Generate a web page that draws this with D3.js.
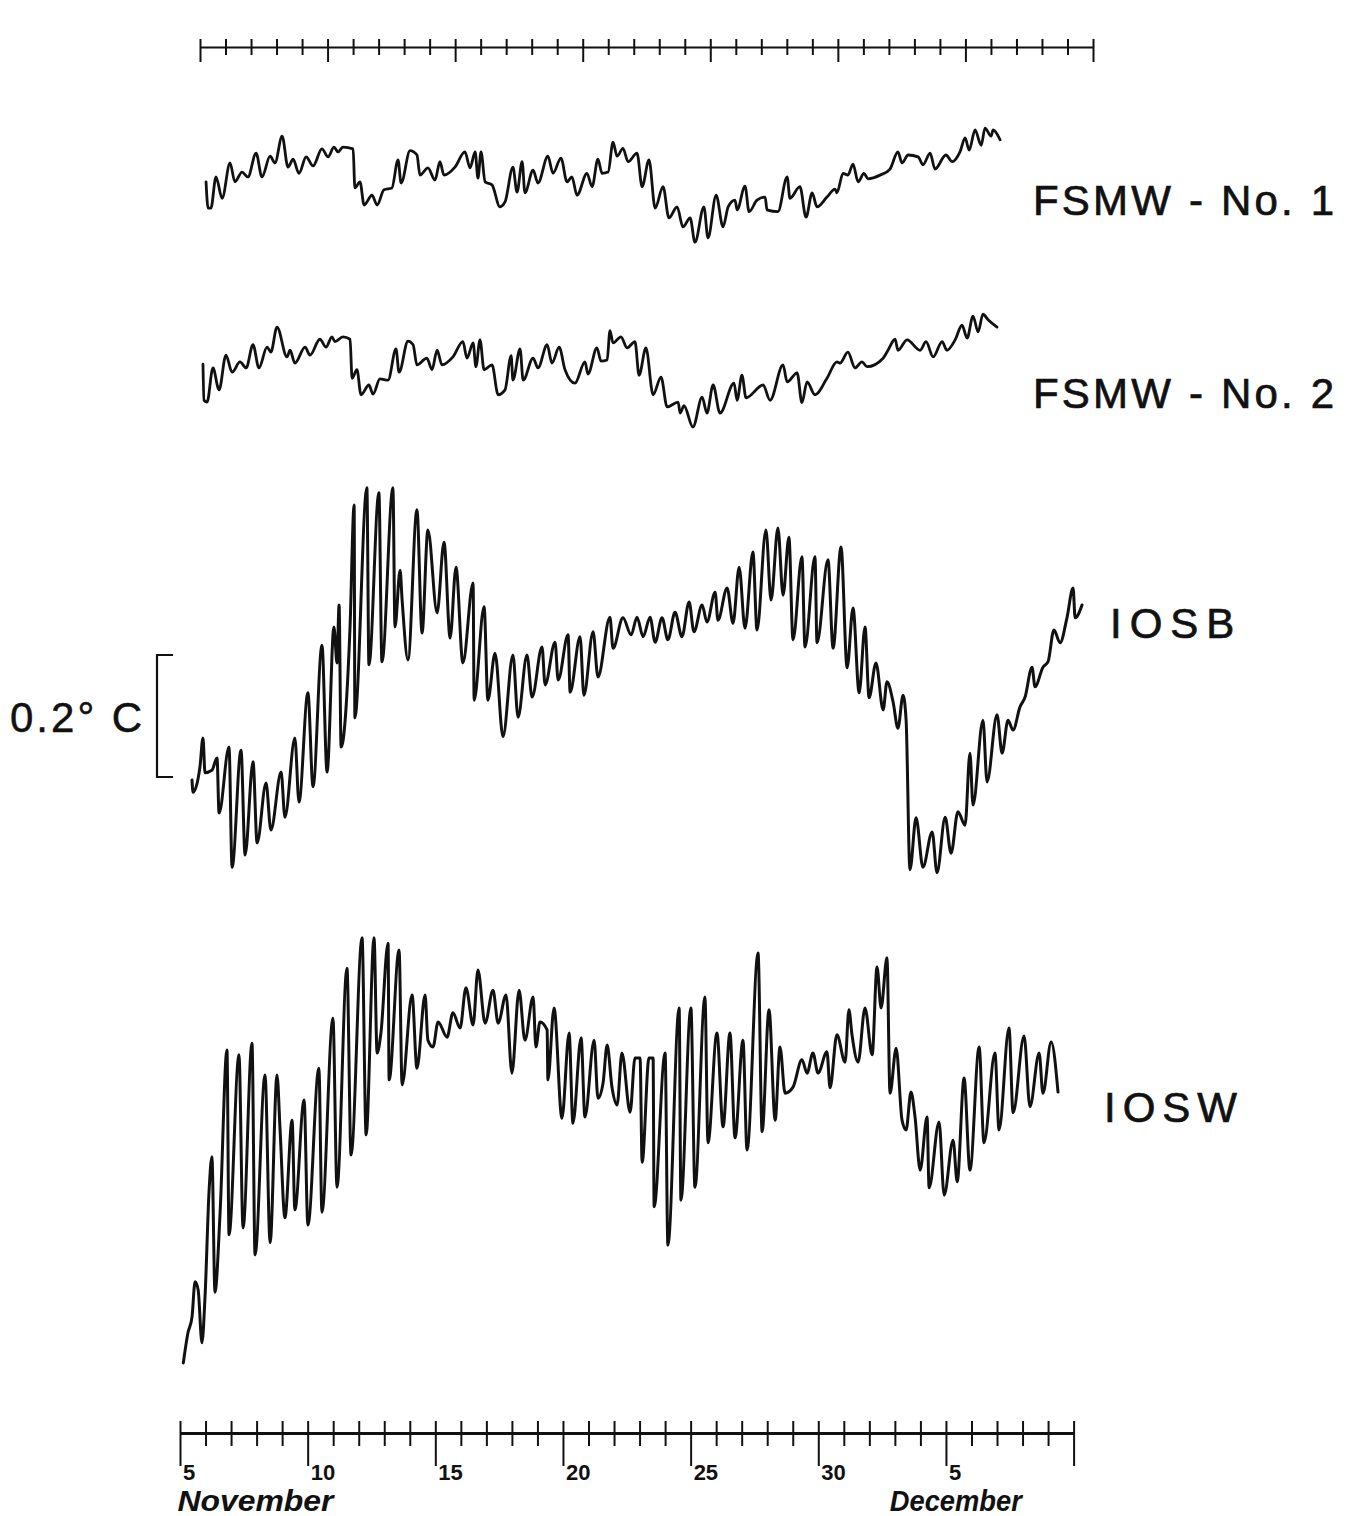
<!DOCTYPE html>
<html><head><meta charset="utf-8">
<script src="https://cdn.jsdelivr.net/npm/d3@7"></script>
<style>body{margin:0;background:#fff}svg{display:block}</style></head>
<body><svg id="c" width="1355" height="1516"></svg>
<script>
// ---------- DATA (day of November, temperature anomaly in °C) ----------
const tickDays = d3.range(5, 41);
const majorDays = [5, 10, 15, 20, 25, 30, 35, 40];
const dayLabels = ["5", "10", "15", "20", "25", "30", "5", ""];
const monthNames = ["November", "December"];
const monthDays = [4.9, 32.8];
const seriesNames = ["FSMW - No. 1", "FSMW - No. 2", "IOSB", "IOSW"];
const scaleBarValues = [0, 0.2];
const scaleBarLabel = "0.2° C";

const fsmw1 = [[6.02,-0.003],[6.10,-0.046],[6.21,-0.046],[6.41,0.005],[6.65,-0.030],[6.96,0.028],[7.15,-0.003],[7.43,0.013],[7.66,0.005],[7.98,0.044],[8.21,0.005],[8.53,0.039],[8.72,0.028],[9.00,0.072],[9.23,0.021],[9.43,0.034],[9.66,0.011],[9.94,0.038],[10.21,0.023],[10.56,0.051],[10.80,0.038],[11.03,0.054],[11.19,0.046],[11.38,0.054],[11.78,0.051],[11.85,-0.013],[12.05,-0.003],[12.21,-0.041],[12.52,-0.025],[12.72,-0.041],[12.99,-0.016],[13.30,-0.013],[13.54,0.033],[13.66,-0.005],[14.01,0.048],[14.28,0.041],[14.40,0.008],[14.71,0.020],[14.99,0.000],[15.18,0.030],[15.34,0.008],[15.77,0.021],[16.16,0.046],[16.36,0.020],[16.56,0.046],[16.67,0.003],[16.79,0.046],[16.95,-0.003],[17.22,-0.008],[17.53,-0.044],[17.73,-0.036],[18.04,0.021],[18.20,-0.020],[18.40,0.030],[18.51,-0.021],[18.83,0.016],[19.02,-0.005],[19.41,0.039],[19.61,0.011],[19.92,0.036],[20.16,-0.003],[20.35,0.005],[20.55,-0.025],[20.94,0.011],[21.14,-0.011],[21.37,0.034],[21.53,0.011],[21.77,0.013],[21.96,0.062],[22.12,0.039],[22.35,0.052],[22.55,0.030],[22.90,0.044],[23.10,-0.011],[23.37,0.033],[23.61,-0.046],[23.92,-0.011],[24.15,-0.062],[24.47,-0.044],[24.70,-0.077],[24.98,-0.062],[25.17,-0.102],[25.52,-0.044],[25.68,-0.095],[26.00,-0.025],[26.27,-0.077],[26.47,-0.044],[26.74,-0.033],[26.82,-0.049],[27.13,-0.010],[27.29,-0.052],[27.60,-0.033],[27.92,-0.028],[27.99,-0.049],[28.42,-0.052],[28.78,0.005],[28.89,-0.030],[29.28,-0.011],[29.52,-0.061],[29.76,-0.021],[29.95,-0.044],[30.34,-0.028],[30.66,-0.015],[30.73,-0.021],[30.97,0.011],[31.16,0.008],[31.36,0.026],[31.56,-0.003],[31.79,0.011],[31.95,0.002],[32.42,0.008],[32.81,0.018],[33.12,0.046],[33.28,0.028],[33.52,0.041],[33.91,0.038],[34.10,0.025],[34.38,0.044],[34.57,0.018],[35.00,0.041],[35.24,0.030],[35.55,0.046],[35.75,0.069],[35.91,0.049],[36.14,0.082],[36.38,0.057],[36.53,0.085],[36.77,0.072],[36.85,0.082],[37.12,0.066]];

const fsmw2 = [[5.90,-0.007],[5.94,-0.066],[6.06,-0.069],[6.29,-0.013],[6.53,-0.049],[6.80,0.008],[7.04,-0.020],[7.35,-0.003],[7.59,-0.013],[7.86,0.025],[8.09,-0.013],[8.41,0.021],[8.56,0.013],[8.80,0.054],[9.19,0.005],[9.31,0.016],[9.50,-0.005],[9.90,0.021],[10.09,0.008],[10.48,0.034],[10.72,0.021],[10.95,0.038],[11.07,0.030],[11.38,0.038],[11.66,0.034],[11.74,-0.030],[11.93,-0.016],[12.09,-0.057],[12.40,-0.041],[12.56,-0.056],[12.83,-0.031],[13.15,-0.033],[13.46,0.018],[13.58,-0.020],[13.93,0.031],[14.13,0.025],[14.28,-0.008],[14.67,0.003],[14.87,-0.016],[15.07,0.016],[15.26,-0.008],[15.69,0.005],[16.08,0.030],[16.24,0.003],[16.48,0.028],[16.59,-0.011],[16.75,0.033],[16.91,-0.016],[17.22,-0.008],[17.46,-0.057],[17.73,-0.049],[17.97,0.007],[18.04,-0.033],[18.32,0.018],[18.44,-0.033],[18.83,0.003],[19.02,-0.013],[19.38,0.025],[19.57,-0.005],[19.85,0.021],[20.08,-0.016],[20.47,-0.038],[20.86,-0.003],[20.98,-0.023],[21.33,0.020],[21.49,-0.002],[21.73,0.000],[21.84,0.048],[21.96,0.028],[22.27,0.038],[22.51,0.020],[22.82,0.030],[22.98,-0.025],[23.25,0.020],[23.53,-0.057],[23.84,-0.028],[24.08,-0.077],[24.51,-0.069],[24.59,-0.087],[24.74,-0.075],[25.09,-0.110],[25.45,-0.061],[25.64,-0.087],[25.88,-0.041],[26.15,-0.087],[26.70,-0.038],[26.82,-0.066],[27.01,-0.025],[27.17,-0.062],[27.84,-0.041],[28.11,-0.066],[28.62,-0.008],[28.78,-0.036],[29.17,-0.021],[29.36,-0.070],[29.56,-0.036],[29.87,-0.057],[30.34,-0.030],[30.73,-0.003],[30.85,-0.005],[31.16,0.013],[31.44,-0.013],[31.71,-0.003],[31.91,-0.011],[32.54,0.003],[32.73,0.016],[33.01,0.034],[33.12,0.016],[33.48,0.033],[33.99,0.016],[34.22,0.030],[34.50,0.005],[34.85,0.030],[35.04,0.016],[35.36,0.033],[35.63,0.057],[35.83,0.036],[36.06,0.072],[36.26,0.046],[36.45,0.075],[36.65,0.066],[37.00,0.054]];

const iosb = [[5.47,-0.005],[5.51,-0.025],[5.78,0.016],[5.90,0.064],[5.98,0.007],[6.25,0.011],[6.45,0.031],[6.53,-0.059],[6.92,0.049],[7.04,-0.148],[7.39,0.044],[7.55,-0.128],[7.86,0.025],[8.02,-0.108],[8.37,-0.010],[8.56,-0.087],[8.96,0.008],[9.11,-0.066],[9.50,0.064],[9.66,-0.041],[10.01,0.138],[10.21,-0.016],[10.56,0.216],[10.76,0.008],[11.03,0.246],[11.15,0.187],[11.23,0.282],[11.31,0.049],[11.66,0.246],[11.82,0.446],[11.85,0.097],[12.32,0.474],[12.40,0.184],[12.79,0.466],[12.91,0.189],[13.34,0.474],[13.42,0.246],[13.62,0.339],[13.70,0.290],[13.93,0.192],[14.28,0.438],[14.48,0.236],[14.71,0.405],[15.07,0.269],[15.34,0.385],[15.58,0.228],[15.81,0.344],[16.08,0.187],[16.48,0.318],[16.52,0.126],[16.91,0.279],[17.06,0.126],[17.34,0.203],[17.65,0.066],[18.04,0.200],[18.24,0.098],[18.59,0.200],[18.79,0.131],[19.18,0.213],[19.30,0.151],[19.69,0.221],[19.81,0.159],[20.20,0.233],[20.28,0.139],[20.67,0.230],[20.82,0.134],[21.18,0.238],[21.37,0.164],[21.84,0.262],[21.96,0.211],[22.35,0.261],[22.67,0.233],[22.90,0.262],[23.14,0.230],[23.41,0.262],[23.61,0.221],[23.88,0.261],[24.11,0.225],[24.39,0.270],[24.66,0.230],[24.94,0.287],[25.13,0.238],[25.45,0.282],[25.64,0.254],[25.96,0.303],[26.07,0.257],[26.43,0.310],[26.66,0.252],[26.90,0.344],[27.13,0.244],[27.44,0.369],[27.60,0.241],[27.95,0.405],[28.15,0.290],[28.42,0.408],[28.62,0.298],[28.85,0.393],[29.01,0.225],[29.36,0.361],[29.48,0.213],[29.87,0.361],[29.95,0.220],[30.38,0.356],[30.58,0.211],[30.89,0.377],[31.13,0.179],[31.36,0.277],[31.60,0.138],[31.83,0.246],[31.99,0.130],[32.26,0.187],[32.54,0.110],[32.69,0.156],[32.93,0.123],[33.12,0.080],[33.32,0.134],[33.44,0.093],[33.59,-0.152],[33.83,-0.067],[34.10,-0.148],[34.46,-0.090],[34.65,-0.157],[34.97,-0.066],[35.20,-0.125],[35.47,-0.057],[35.75,-0.079],[35.94,0.039],[36.06,-0.046],[36.45,0.093],[36.61,-0.008],[37.00,0.102],[37.20,0.039],[37.43,0.093],[37.63,0.077],[37.90,0.115],[38.10,0.131],[38.37,0.180],[38.49,0.148],[38.80,0.180],[39.00,0.189],[39.23,0.241],[39.47,0.220],[39.74,0.261],[39.98,0.310],[40.06,0.261],[40.33,0.282]];

const iosw = [[5.13,-0.431],[5.31,-0.382],[5.47,-0.356],[5.59,-0.298],[5.71,-0.311],[5.86,-0.398],[5.98,-0.323],[6.14,-0.148],[6.25,-0.093],[6.37,-0.315],[6.57,-0.185],[6.84,0.082],[6.92,-0.221],[7.31,0.074],[7.47,-0.210],[7.82,0.093],[7.94,-0.254],[8.33,0.041],[8.53,-0.234],[8.80,0.041],[8.92,-0.049],[9.11,-0.193],[9.39,-0.033],[9.50,-0.180],[9.86,0.000],[10.01,-0.205],[10.44,0.052],[10.56,-0.184],[10.99,0.134],[11.15,-0.143],[11.54,0.216],[11.70,-0.090],[12.13,0.266],[12.29,-0.057],[12.60,0.266],[12.72,0.077],[12.87,0.110],[13.15,0.257],[13.19,0.033],[13.58,0.246],[13.70,0.025],[14.09,0.172],[14.28,0.052],[14.60,0.172],[14.71,0.098],[14.91,0.087],[15.11,0.128],[15.46,0.103],[15.69,0.143],[15.97,0.118],[16.20,0.184],[16.48,0.123],[16.67,0.213],[16.95,0.126],[17.26,0.180],[17.46,0.126],[17.77,0.172],[18.00,0.044],[18.28,0.180],[18.51,0.098],[18.83,0.169],[18.94,0.087],[19.10,0.128],[19.38,0.115],[19.41,0.033],[19.65,0.151],[19.96,-0.030],[20.24,0.110],[20.39,-0.038],[20.71,0.102],[20.86,-0.028],[21.22,0.098],[21.37,0.003],[21.57,0.028],[21.73,0.090],[21.92,0.021],[22.12,-0.008],[22.31,0.077],[22.63,-0.020],[22.82,0.069],[23.02,0.069],[23.10,-0.102],[23.37,0.069],[23.53,0.069],[23.57,-0.175],[24.00,0.077],[24.11,-0.238],[24.55,0.151],[24.62,-0.164],[25.01,0.151],[25.17,-0.143],[25.56,0.169],[25.68,-0.070],[26.03,0.110],[26.27,-0.044],[26.54,0.110],[26.74,-0.062],[27.05,0.098],[27.21,-0.082],[27.64,0.241],[27.80,-0.052],[28.07,0.148],[28.31,-0.033],[28.50,0.087],[28.70,0.011],[29.01,0.021],[29.36,0.066],[29.56,0.044],[29.79,0.077],[29.99,0.044],[30.34,0.079],[30.46,0.020],[30.73,0.107],[31.05,0.062],[31.20,0.148],[31.32,0.107],[31.56,0.062],[31.83,0.151],[32.11,0.074],[32.30,0.218],[32.46,0.151],[32.69,0.233],[32.81,0.011],[33.05,0.085],[33.28,-0.033],[33.44,-0.049],[33.63,0.013],[33.79,-0.028],[33.99,-0.115],[34.26,-0.028],[34.34,-0.144],[34.73,-0.036],[34.93,-0.156],[35.28,-0.066],[35.44,-0.134],[35.71,0.036],[35.94,-0.115],[36.30,0.087],[36.49,-0.070],[36.92,0.077],[37.08,-0.049],[37.47,0.118],[37.63,-0.021],[38.06,0.105],[38.29,-0.011],[38.65,0.077],[38.80,0.011],[39.12,0.095],[39.39,0.013]];

// ---------- LAYOUT ----------
const W = 1355, H = 1516;
const svg = d3.select("#c");
svg.append("rect").attr("width", W).attr("height", H).attr("fill", "#fff");
const ink = "#111";
const font = "'Liberation Sans', Arial, sans-serif";

const x = d3.scaleLinear().domain([5, 40]).range([180, 1073.6]);
const xTop = d3.scaleLinear().domain([5, 40]).range([200, 1093]);
const pxPerDegree = 610;
const traceBase = [180, 360, 777, 1100];
const yFor = base => d3.scaleLinear().domain([0, 1]).range([base, base - pxPerDegree]);

const allSeries = [fsmw1, fsmw2, iosb, iosw];
const labelPos = [
  {x: 1033, y: 215, ls: 3.2}, {x: 1033, y: 408, ls: 3.2},
  {x: 1110, y: 638, ls: 8}, {x: 1104, y: 1122, ls: 7}
];

allSeries.forEach((s, i) => {
  const y = yFor(traceBase[i]);
  const line = d3.line().x(d => x(d[0])).y(d => y(d[1])).curve(d3.curveMonotoneX);
  svg.append("path").datum(s).attr("d", line)
    .attr("fill", "none").attr("stroke", ink).attr("stroke-width", i < 2 ? 2.8 : 3)
    .attr("stroke-linejoin", "round").attr("stroke-linecap", "round");
  svg.append("text").attr("x", labelPos[i].x).attr("y", labelPos[i].y)
    .attr("font-family", font).attr("font-size", 42).attr("fill", ink)
    .attr("stroke", ink).attr("stroke-width", 0.7)
    .attr("letter-spacing", labelPos[i].ls).text(seriesNames[i]);
});

// scale bar (0.2 °C) using IOSB scale
const yB = yFor(traceBase[2]);
const barX = 157;
svg.append("path")
  .attr("d", `M${barX + 16},${yB(scaleBarValues[1])}H${barX}V${yB(scaleBarValues[0])}H${barX + 16}`)
  .attr("fill", "none").attr("stroke", ink).attr("stroke-width", 2.2);
svg.append("text").attr("x", 10).attr("y", (yB(0) + yB(0.2)) / 2 + 16)
  .attr("font-family", font).attr("font-size", 42).attr("fill", ink)
  .attr("stroke", ink).attr("stroke-width", 0.5)
  .attr("letter-spacing", 3).text(scaleBarLabel);

// top axis
const gTop = svg.append("g").attr("transform", "translate(0,47)")
  .call(d3.axisBottom(xTop).tickValues(tickDays).tickSize(8).tickSizeOuter(0).tickFormat(""));
gTop.select(".domain").attr("stroke", ink).attr("stroke-width", 2.2);
gTop.selectAll(".tick line").attr("stroke", ink).attr("stroke-width", 2)
  .attr("y1", -8).attr("y2", d => majorDays.includes(d) ? 15 : 8);

// bottom axis
const gBot = svg.append("g").attr("transform", "translate(0,1433)")
  .call(d3.axisBottom(x).tickValues(tickDays).tickSize(13).tickSizeOuter(0).tickFormat(""));
gBot.select(".domain").attr("stroke", ink).attr("stroke-width", 2.8);
gBot.selectAll(".tick line").attr("stroke", ink).attr("stroke-width", 2)
  .attr("y1", -12).attr("y2", d => majorDays.includes(d) ? 33 : 13);

majorDays.forEach((d, i) => {
  if (!dayLabels[i]) return;
  svg.append("text").attr("x", x(d) + 3).attr("y", 1480)
    .attr("font-family", font).attr("font-size", 22).attr("font-weight", "bold")
    .attr("fill", ink).text(dayLabels[i]);
});

const monthWidths = [156, 132];
monthNames.forEach((m, i) => {
  svg.append("text").attr("x", x(monthDays[i])).attr("y", 1511)
    .attr("font-family", font).attr("font-size", 30).attr("font-weight", "bold")
    .attr("font-style", "italic").attr("fill", ink)
    .attr("textLength", monthWidths[i]).attr("lengthAdjust", "spacingAndGlyphs").text(m);
});
</script></body></html>
